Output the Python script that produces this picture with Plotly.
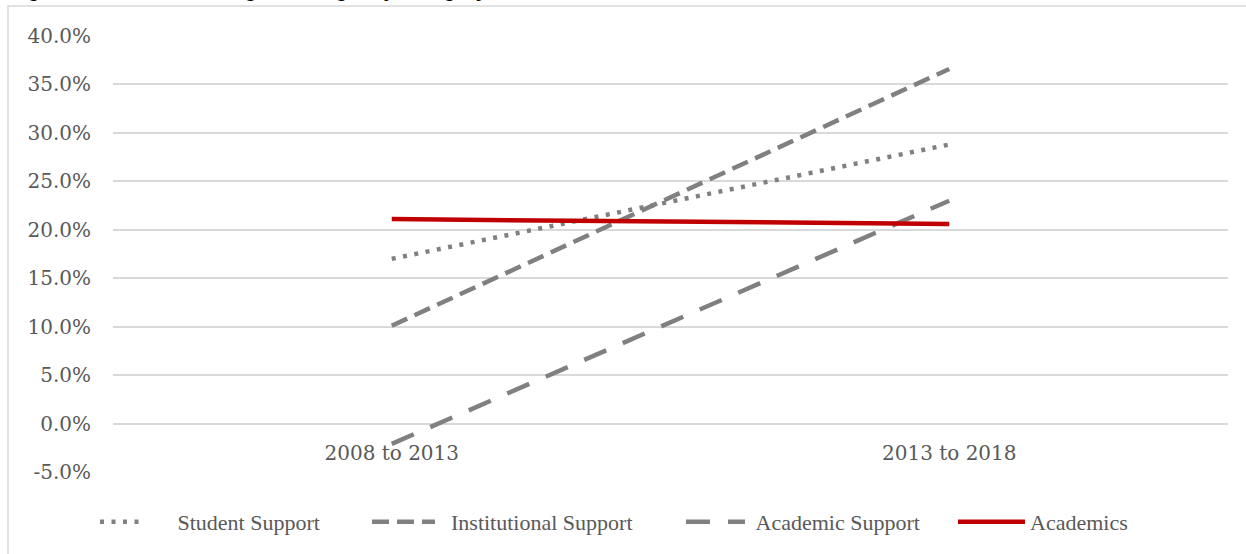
import plotly.graph_objects as go

categories = ["2008 to 2013", "2013 to 2018"]
student_support = [17.0, 28.8]
institutional_support = [10.1, 36.6]
academic_support = [-2.1, 23.0]
academics = [21.1, 20.6]
y_ticks = [-5, 0, 5, 10, 15, 20, 25, 30, 35, 40]
y_tick_labels = [f"{v:.1f}%" for v in y_ticks]

GRAY = "#808080"
RED = "#C00000"
TICK_FONT = "DejaVu Serif"
LEG_FONT = "Liberation Serif"
TXT = "#595959"

W, H = 1246, 554
L, R, T, B = 113, 18, 36, 81
pw, ph = W - L - R, H - T - B


def px_x(p):
    return (p - L) / pw


def px_y(p):
    return (H - B - p) / ph


NB = "\u00a0"
series = [
    ("Student Support", student_support, GRAY, "4px,7.5px", "legend", 100, 45, 5),
    ("Institutional Support", institutional_support, GRAY, "17px,8px", "legend2", 372, 63, 2),
    ("Academic Support", academic_support, GRAY, "24px,18px", "legend3", 686, 59, 1),
    ("Academics", academics, RED, "solid", "legend4", 958, 67, 0),
]

fig = go.Figure()
legend_layouts = {}
for name, vals, color, dash, leg, lx, lw, pad in series:
    fig.add_trace(go.Scatter(x=categories, y=vals, name=NB * pad + name, mode="lines",
                             line=dict(color=color, width=4.5, dash=dash), legend=leg))
    legend_layouts[leg] = dict(orientation="h", x=px_x(lx - 5), xanchor="left",
                               y=px_y(522), yanchor="middle", itemwidth=lw,
                               font=dict(family=LEG_FONT, size=22, color=TXT),
                               bgcolor="rgba(0,0,0,0)", borderwidth=0)

fig.update_layout(
    width=W, height=H,
    margin=dict(l=L, r=R, t=T, b=B, pad=0),
    paper_bgcolor="white", plot_bgcolor="white",
    font=dict(family=TICK_FONT, size=20, color=TXT),
    showlegend=True,
    xaxis=dict(type="category", range=[-0.5, 1.5], showgrid=False, zeroline=False,
               showline=False, ticks="", anchor="free", position=px_y(425),
               ticklabelstandoff=15,
               tickfont=dict(family=TICK_FONT, size=20, color=TXT), fixedrange=True),
    yaxis=dict(range=[-5, 40], tickvals=y_ticks, ticktext=y_tick_labels,
               showgrid=True, gridcolor="#D9D9D9", gridwidth=1.5, zeroline=False,
               showline=False, ticks="", ticklabelstandoff=21,
               tickfont=dict(family=TICK_FONT, size=20, color=TXT), fixedrange=True),
    shapes=[dict(type="rect", xref="paper", yref="paper",
                 x0=px_x(8), x1=px_x(1260), y0=px_y(570), y1=px_y(6),
                 line=dict(color="#D9D9D9", width=1.5), fillcolor="rgba(0,0,0,0)", layer="below")],
    annotations=[dict(text="<b>Figure 3: Five-Year Change in Budget by Category</b>",
                      xref="paper", yref="paper", x=px_x(8), y=px_y(3),
                      xanchor="left", yanchor="bottom", showarrow=False,
                      font=dict(family="Liberation Sans", size=20, color="black"))],
    **legend_layouts,
)

fig.write_html("out.html")
